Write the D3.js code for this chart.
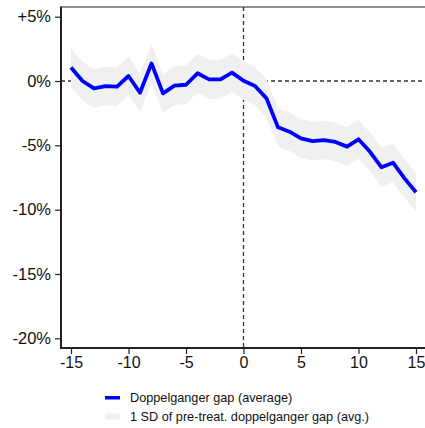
<!DOCTYPE html>
<html>
<head>
<meta charset="utf-8">
<script src="https://cdn.jsdelivr.net/npm/d3@7/dist/d3.min.js"></script>
<style>
  html, body { margin: 0; padding: 0; background: #fff; }
  svg { display: block; font-family: "Liberation Sans", Arial, sans-serif; }
</style>
</head>
<body>
<svg id="chart" width="425" height="428"></svg>
<script>
// Event time relative to treatment (years)
const eventTime = d3.range(-15, 16);
// Average doppelganger gap, percent
const gapAvg = [1.05, 0.0, -0.57, -0.39, -0.44, 0.39, -0.91, 1.37, -0.96, -0.36, -0.29,
                0.6, 0.13, 0.13, 0.65, 0.02, -0.39, -1.35, -3.6, -3.94, -4.46,
                -4.67, -4.59, -4.74, -5.1, -4.53, -5.5, -6.71, -6.35, -7.57, -8.65];
// One standard deviation of the pre-treatment gap, percent
const preSD = 1.5;
const xTicks = [-15, -10, -5, 0, 5, 10, 15];
const yTicks = [5, 0, -5, -10, -15, -20];
const legendLabels = ["Doppelganger gap (average)", "1 SD of pre-treat. doppelganger gap (avg.)"];

const svg = d3.select("#chart");
const plotL = 61, plotT = 7, plotR = 432, plotB = 348;

const x = d3.scaleLinear().domain([-15, 15]).range([71, 416]);
const y = d3.scaleLinear().domain([5, -20]).range([16.7, 338.3]);

const data = eventTime.map((t, i) => ({ t, v: gapAvg[i] }));

// Reference lines at zero
svg.append("line")
  .attr("x1", plotL).attr("x2", plotR)
  .attr("y1", y(0)).attr("y2", y(0))
  .attr("stroke", "#333").attr("stroke-width", 1.3)
  .attr("stroke-dasharray", "4,3");
svg.append("line")
  .attr("x1", x(0)).attr("x2", x(0))
  .attr("y1", plotT).attr("y2", plotB)
  .attr("stroke", "#333").attr("stroke-width", 1.3)
  .attr("stroke-dasharray", "4,3");

// SD band around the average gap
svg.append("path")
  .datum(data)
  .attr("fill", "#f0f0f0")
  .attr("d", d3.area()
    .x(d => x(d.t))
    .y0(d => y(d.v - preSD))
    .y1(d => y(d.v + preSD)));

// Average gap line
svg.append("path")
  .datum(data)
  .attr("fill", "none")
  .attr("stroke", "#0000ff")
  .attr("stroke-width", 3.8)
  .attr("stroke-linejoin", "round")
  .attr("d", d3.line().x(d => x(d.t)).y(d => y(d.v)));

// Frame: top border
svg.append("line")
  .attr("x1", plotL).attr("x2", plotR)
  .attr("y1", plotT).attr("y2", plotT)
  .attr("stroke", "#222").attr("stroke-width", 1.2);

// Y axis
const yAxis = svg.append("g")
  .attr("transform", `translate(${plotL},0)`)
  .call(d3.axisLeft(y).tickValues(yTicks)
    .tickSize(6).tickPadding(4)
    .tickFormat(d => (d > 0 ? "+" : "") + d + "%"));
yAxis.select(".domain").remove();
yAxis.append("line")
  .attr("x1", 0).attr("x2", 0).attr("y1", plotT - 0.6).attr("y2", plotB + 1)
  .attr("stroke", "#222").attr("stroke-width", 2);
yAxis.selectAll(".tick line").attr("stroke", "#222").attr("stroke-width", 1.2);
yAxis.selectAll(".tick text")
  .attr("font-size", 16.5).attr("fill", "#111")
  .attr("font-family", "Liberation Sans, Arial, sans-serif");

// X axis
const xAxis = svg.append("g")
  .attr("transform", `translate(0,${plotB})`)
  .call(d3.axisBottom(x).tickValues(xTicks)
    .tickSize(6).tickPadding(3)
    .tickFormat(d => d));
xAxis.select(".domain").remove();
xAxis.append("line")
  .attr("x1", plotL - 1).attr("x2", plotR).attr("y1", 0).attr("y2", 0)
  .attr("stroke", "#222").attr("stroke-width", 2);
xAxis.selectAll(".tick line").attr("stroke", "#222").attr("stroke-width", 1.2);
xAxis.selectAll(".tick text")
  .attr("font-size", 16).attr("fill", "#111")
  .attr("font-family", "Liberation Sans, Arial, sans-serif");

// Legend
const legend = svg.append("g");
legend.append("rect")
  .attr("x", 105).attr("y", 396).attr("width", 15).attr("height", 3.5)
  .attr("fill", "#0000ff");
legend.append("rect")
  .attr("x", 105).attr("y", 413.5).attr("width", 15).attr("height", 6)
  .attr("fill", "#f0f0f0");
legend.selectAll("text.lbl")
  .data(legendLabels)
  .join("text")
  .attr("class", "lbl")
  .attr("x", 130)
  .attr("y", (d, i) => 402 + i * 19)
  .attr("font-size", 12.7)
  .attr("fill", "#111")
  .text(d => d);
</script>
</body>
</html>
